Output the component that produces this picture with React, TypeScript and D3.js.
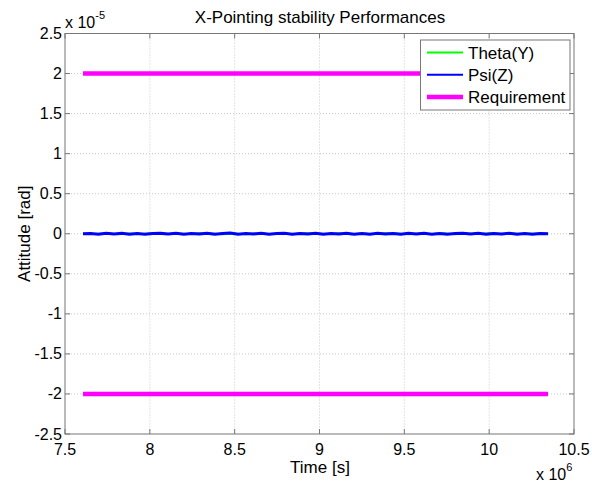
import React from "react";
import * as d3 from "d3";

const title = "X-Pointing stability Performances";
const xTicks = [7.5, 8, 8.5, 9, 9.5, 10, 10.5];
const yTicks = [2.5, 2, 1.5, 1, 0.5, 0, -0.5, -1, -1.5, -2, -2.5];
const tStart = 7.606;
const tEnd = 10.347;
const requirement = [2, -2];
// small residuals (units of 1e-5 rad)
const psiNoise = [0.0, 0.004, -0.006, 0.005, -0.003, 0.006, -0.005, 0.003, -0.006, 0.004, 0.006, -0.004, 0.005, -0.007, 0.003, -0.004, 0.006, -0.005, 0.004, 0.009, -0.006, 0.003, -0.004, 0.005, -0.006, 0.003, 0.006, -0.005, 0.004, -0.003, 0.005, -0.006, 0.004, -0.004, 0.006, -0.005, 0.003, -0.006, 0.005, -0.004, 0.004, -0.005, 0.006, -0.003, 0.005, -0.006, 0.004, -0.005, 0.003, 0.006, -0.004, 0.005, -0.006, 0.004, -0.003, 0.006, -0.005, 0.004, -0.006, 0.003, 0.0];
const thetaNoise = [0.0, -0.004, 0.005, -0.006, 0.004, -0.003, 0.006, -0.005, 0.004, -0.004, 0.005, 0.003, -0.006, 0.004, -0.005, 0.006, -0.004, 0.003, -0.006, 0.005, 0.004, -0.003, 0.006, -0.005, 0.004, -0.004, 0.005, 0.003, -0.006, 0.004, -0.003, 0.006, -0.005, 0.004, -0.004, 0.005, -0.006, 0.003, -0.004, 0.004, 0.0];
const legendItems = [
  { label: "Theta(Y)", color: "#00ff00", width: 2 },
  { label: "Psi(Z)", color: "#0000ff", width: 2 },
  { label: "Requirement", color: "#ff00ff", width: 4.5 },
];

const W = 592, H = 486;
const L = 65, R = 574, T = 33.5, B = 434;
const font = "'Liberation Sans', Arial, Helvetica, sans-serif";

export default function App() {
  const x = d3.scaleLinear().domain([7.5, 10.5]).range([L, R]);
  const y = d3.scaleLinear().domain([-2.5, 2.5]).range([B, T]);
  const toSeries = (arr: number[]) =>
    arr.map((v, i) => [tStart + ((tEnd - tStart) * i) / (arr.length - 1), v] as [number, number]);
  const line = d3.line<[number, number]>().x((d) => x(d[0])).y((d) => y(d[1]));
  const grid = "#c8c8c8";
  const axisC = "#777";
  return (
    <svg width={W} height={H} style={{ position: "absolute", left: 0, top: 0, background: "#fff" }} fontFamily={font}>
      <rect x={0} y={0} width={W} height={H} fill="#fff" />
      {/* grid */}
      {xTicks.slice(1, -1).map((t) => (
        <line key={"gx" + t} x1={x(t)} x2={x(t)} y1={T} y2={B} stroke={grid} strokeDasharray="1,2" strokeWidth={1} />
      ))}
      {yTicks.slice(1, -1).map((t) => (
        <line key={"gy" + t} x1={L} x2={R} y1={y(t)} y2={y(t)} stroke={grid} strokeDasharray="1,2" strokeWidth={1} />
      ))}
      {/* data */}
      {requirement.map((r) => (
        <path key={"r" + r} d={line([[tStart, r], [tEnd, r]]) || ""} stroke="#ff00ff" strokeWidth={4.5} fill="none" />
      ))}
      <path d={line(toSeries(thetaNoise)) || ""} stroke="#00ff00" strokeWidth={2} fill="none" />
      <path d={line(toSeries(psiNoise)) || ""} stroke="#0000ff" strokeWidth={3} fill="none" />
      {/* box */}
      <rect x={L} y={T} width={R - L} height={B - T} fill="none" stroke={axisC} strokeWidth={1} />
      {/* ticks */}
      {xTicks.map((t) => (
        <g key={"tx" + t}>
          <line x1={x(t)} x2={x(t)} y1={B} y2={B - 5} stroke={axisC} />
          <line x1={x(t)} x2={x(t)} y1={T} y2={T + 5} stroke={axisC} />
          <text x={x(t)} y={455} textAnchor="middle" fontSize={16} fill="#000">{t}</text>
        </g>
      ))}
      {yTicks.map((t) => (
        <g key={"ty" + t}>
          <line x1={L} x2={L + 5} y1={y(t)} y2={y(t)} stroke={axisC} />
          <line x1={R} x2={R - 5} y1={y(t)} y2={y(t)} stroke={axisC} />
          <text x={62} y={y(t) + 5.5} textAnchor="end" fontSize={16} fill="#000">{t}</text>
        </g>
      ))}
      {/* exponents */}
      <text x={65} y={28} fontSize={16} fill="#000">x 10<tspan dy={-9} fontSize={11}>-5</tspan></text>
      <text x={536} y={480} fontSize={16} fill="#000">x 10<tspan dy={-9} fontSize={11}>6</tspan></text>
      {/* labels */}
      <text x={320} y={22.5} textAnchor="middle" fontSize={17} fill="#000">{title}</text>
      <text x={320} y={473} textAnchor="middle" fontSize={17} fill="#000">Time [s]</text>
      <text transform={`translate(29.5,${(T + B) / 2}) rotate(-90)`} textAnchor="middle" fontSize={17} fill="#000">Attitude [rad]</text>
      {/* legend */}
      <rect x={420.5} y={40} width={149.5} height={70} fill="#fff" stroke={axisC} strokeWidth={1} />
      {legendItems.map((it, i) => (
        <g key={it.label}>
          <line x1={427} x2={463} y1={52.5 + i * 22.2} y2={52.5 + i * 22.2} stroke={it.color} strokeWidth={it.width} />
          <text x={468} y={59 + i * 22.2} fontSize={17} fill="#000">{it.label}</text>
        </g>
      ))}
    </svg>
  );
}
